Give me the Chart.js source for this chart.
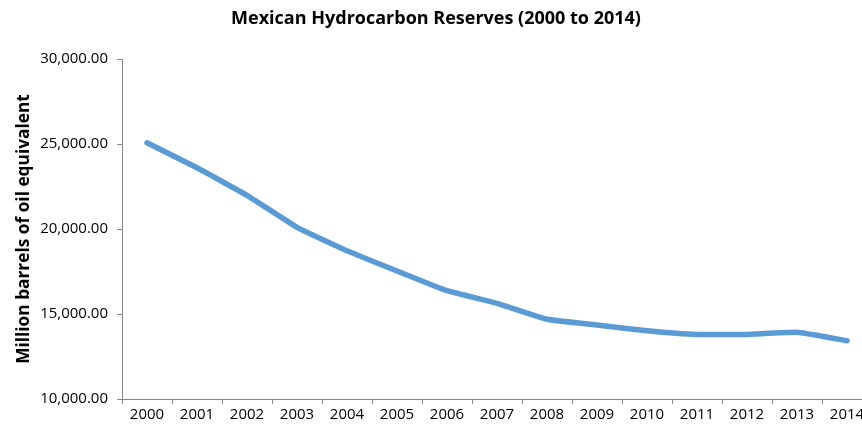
<!DOCTYPE html>
<html>
<head>
<meta charset="utf-8">
<script src="https://cdn.jsdelivr.net/npm/chart.js@4.4.1/dist/chart.umd.min.js"></script>
<style>
  html, body { margin: 0; padding: 0; background: #ffffff; overflow: hidden; }
  #wrap { position: relative; width: 872px; height: 428px; }
</style>
</head>
<body>
<div id="wrap"><canvas id="chart"></canvas></div>
<script>
// Reserve totals by year, million barrels of oil equivalent
const years = ['2000', '2001', '2002', '2003', '2004', '2005', '2006', '2007',
               '2008', '2009', '2010', '2011', '2012', '2013', '2014'];
const reserves = [25070, 23600, 21980, 20100, 18720, 17530, 16370, 15630,
                  14690, 14350, 14020, 13800, 13800, 13920, 13430];
const yTicks = [10000, 15000, 20000, 25000, 30000];

const FONT = '"Open Sans"';
const AXIS_GRAY = '#878787';

new Chart(document.getElementById('chart'), {
  type: 'line',
  data: {
    labels: years,
    datasets: [{
      data: reserves,
      borderColor: '#5b9bd5',
      borderWidth: 5.5,
      borderCapStyle: 'round',
      borderJoinStyle: 'round',
      pointRadius: 0,
      tension: 0.1,
      fill: false
    }]
  },
  options: {
    responsive: true,
    maintainAspectRatio: false,
    animation: false,
    layout: { padding: { left: 0, right: 0, top: 0, bottom: 0 } },
    plugins: {
      legend: { display: false },
      tooltip: { enabled: false },
      title: {
        display: true,
        text: 'Mexican Hydrocarbon Reserves (2000 to 2014)',
        color: '#000000',
        font: { family: FONT, size: 18, weight: 'bold' },
        padding: { top: 8, bottom: 29.4 }
      }
    },
    scales: {
      x: {
        offset: true,
        grid: {
          display: true,
          offset: true,
          drawOnChartArea: false,
          drawTicks: true,
          tickLength: 5,
          tickColor: AXIS_GRAY
        },
        border: { display: true, color: AXIS_GRAY, width: 1 },
        ticks: {
          color: '#000000',
          font: { family: FONT, size: 15 },
          padding: 2,
          maxRotation: 0,
          autoSkip: false
        },
        afterFit(scale) { scale.height = 29; }
      },
      y: {
        min: 10000,
        max: 30000,
        afterBuildTicks(scale) { scale.ticks = yTicks.map(v => ({ value: v })); },
        grid: {
          display: true,
          drawOnChartArea: false,
          drawTicks: true,
          tickLength: 5,
          tickColor: AXIS_GRAY
        },
        border: { display: true, color: AXIS_GRAY, width: 1 },
        ticks: {
          color: '#000000',
          font: { family: FONT, size: 15 },
          padding: 9,
          callback: v => v.toLocaleString('en-US', { minimumFractionDigits: 2, maximumFractionDigits: 2 })
        },
        title: {
          display: true,
          text: 'Million barrels of oil equivalent',
          color: '#000000',
          font: { family: FONT, size: 17.3, weight: 'bold' },
          padding: { top: 14, bottom: 0 }
        },
        afterFit(scale) { scale.width = 122; }
      }
    }
  }
});
</script>
</body>
</html>
